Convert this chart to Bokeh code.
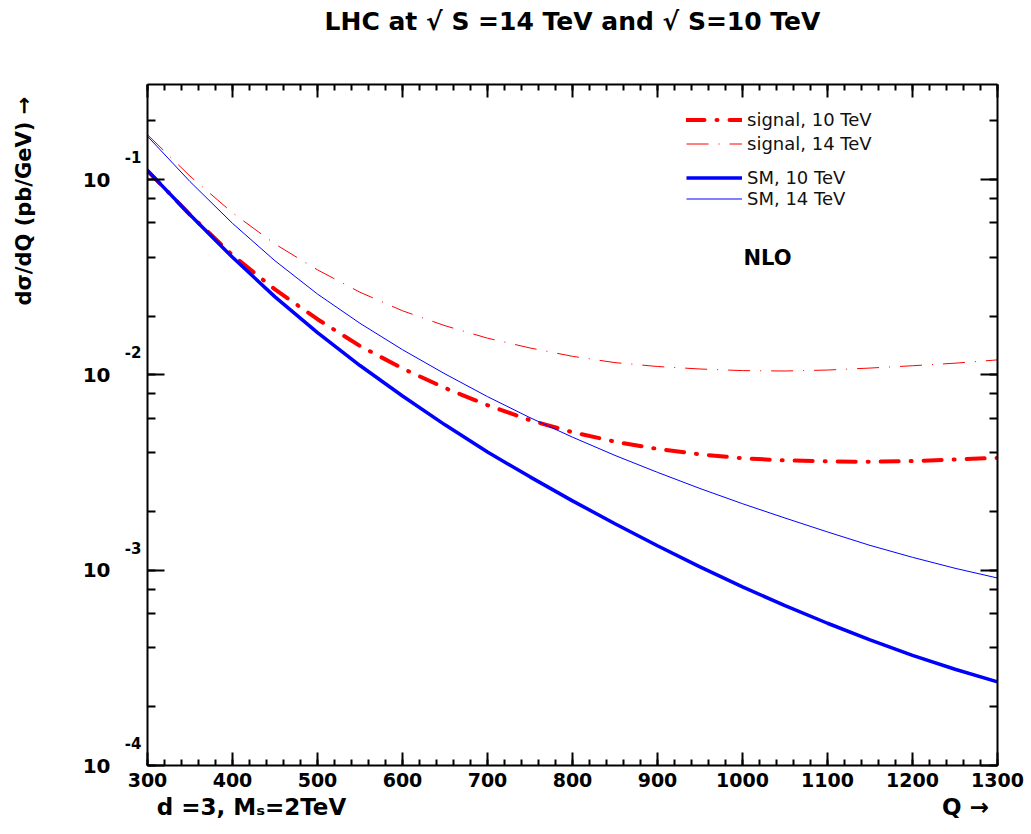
from bokeh.plotting import figure
from bokeh.models import (Label, Legend, LegendItem, LinearAxis, LogAxis, LogTicker,
                          SingleIntervalTicker, FixedTicker, CustomJSTickFormatter)
from bokeh.embed import file_html
from bokeh.resources import INLINE

# ---------------- data ----------------
Q = [300, 350, 400, 450, 500, 550, 600, 650, 700, 750, 800,
     850, 900, 950, 1000, 1050, 1100, 1150, 1200, 1250, 1300]

SIGNAL_10 = [0.1112, 0.0661, 0.0410, 0.0274, 0.01928, 0.01406, 0.01079, 0.00857,
             0.00700, 0.00586, 0.00509, 0.00455, 0.00418, 0.00392, 0.00374,
             0.00365, 0.00361, 0.00359, 0.00362, 0.00369, 0.00376]

SIGNAL_14 = [0.1698, 0.1042, 0.0676, 0.0468, 0.0345, 0.0265, 0.0213, 0.01786,
             0.01542, 0.01374, 0.01245, 0.01156, 0.01104, 0.01072, 0.01052,
             0.01047, 0.01059, 0.01084, 0.01114, 0.01148, 0.01194]

SM_10 = [0.1112, 0.0661, 0.0400, 0.0251, 0.01648, 0.01117, 0.00780, 0.00555,
         0.00403, 0.003006, 0.002265, 0.001730, 0.001334, 0.001040, 0.000822,
         0.000658, 0.000535, 0.000440, 0.000366, 0.000311, 0.000268]

SM_14 = [0.1667, 0.0977, 0.0597, 0.0384, 0.02594, 0.01837, 0.01346, 0.01012,
         0.00774, 0.00604, 0.00480, 0.00387, 0.00317, 0.00262, 0.00219,
         0.00185, 0.00157, 0.00134, 0.001164, 0.001023, 0.000912]

LEGEND_SIGNAL = ["signal, 10 TeV", "signal, 14 TeV"]
LEGEND_SM = ["SM, 10 TeV", "SM, 14 TeV"]
TITLE = "LHC at \u221a S =14 TeV and \u221a S=10 TeV"
Y_TITLE = "d\u03c3/dQ (pb/GeV)  \u2192"
BOTTOM_TEXTS = ["d =3,  M\u209b=2TeV", "Q \u2192"]

# ---------------- layout helpers ----------------
W, H = 1031, 834
XMIN, XMAX = 300, 1300
YLOG_MIN, YLOG_MAX = -4.0, -0.513
# frame position in canvas pixels
F_LEFT, F_RIGHT, F_TOP, F_BOTTOM = 147, 997, 84, 765
DEC_PX = (F_BOTTOM - F_TOP) / (YLOG_MAX - YLOG_MIN)


def X(ix):
    return XMIN + (ix - F_LEFT) * (XMAX - XMIN) / (F_RIGHT - F_LEFT)


def Y(iy):
    return 10 ** (YLOG_MIN + (F_BOTTOM - iy) / DEC_PX)


FONT = "DejaVu Sans"

p = figure(width=W, height=H, x_range=(XMIN, XMAX), y_range=(10 ** YLOG_MIN, 10 ** YLOG_MAX),
           y_axis_type="log", output_backend="svg", toolbar_location=None, title=None,
           min_border_left=F_LEFT, min_border_right=W - F_RIGHT,
           min_border_top=F_TOP, min_border_bottom=H - F_BOTTOM)
p.outline_line_color = None
p.xgrid.visible = False
p.ygrid.visible = False
p.background_fill_color = "white"
p.border_fill_color = "white"

empty = CustomJSTickFormatter(code="return '';")


def style_axis(ax, major_in, minor_in):
    ax.axis_line_width = 2
    ax.axis_line_color = "black"
    ax.major_tick_line_width = 2
    ax.minor_tick_line_width = 2
    ax.major_tick_in = major_in
    ax.major_tick_out = 0
    ax.minor_tick_in = minor_in
    ax.minor_tick_out = 0


def hide_rule(ax):
    ax.axis_line_color = None
    ax.major_tick_line_color = None
    ax.minor_tick_line_color = None
    ax.major_tick_in = 0
    ax.major_tick_out = 0
    ax.minor_tick_in = 0
    ax.minor_tick_out = 0


def bold_labels(ax, size):
    ax.major_label_text_font = FONT
    ax.major_label_text_font_style = "bold"
    ax.major_label_text_font_size = size
    ax.major_label_text_color = "black"


# bottom axis
xb = p.xaxis[0]
xb.ticker = SingleIntervalTicker(interval=100, num_minor_ticks=5)
style_axis(xb, 13, 6)
bold_labels(xb, "19px")
xb.major_label_standoff = 7

# second row below: parameters and "Q ->"
xc = LinearAxis(ticker=FixedTicker(ticks=[X(255), X(965)]),
                formatter=CustomJSTickFormatter(args=dict(labels=BOTTOM_TEXTS),
                                                code="return labels[index];"))
hide_rule(xc)
bold_labels(xc, "23px")
xc.major_label_standoff = 4
p.add_layout(xc, "below")

# top axis: ticks, plus the chart title as the label centred above the frame
xt = LinearAxis(ticker=SingleIntervalTicker(interval=100, num_minor_ticks=5),
                formatter=CustomJSTickFormatter(
                    args=dict(title=TITLE, at=X(573)),
                    code="return Math.abs(tick - at) < 50 ? title : '';"))
style_axis(xt, 13, 6)
bold_labels(xt, "25px")
xt.major_label_standoff = 49
p.add_layout(xt, "above")

# left axis: real decade ticks, exponent written above each decade
yl = p.yaxis[0]
yl.ticker = LogTicker()
yl.formatter = CustomJSTickFormatter(
    code="return String(Math.round(Math.log10(tick))) + '\\n\\n';")
style_axis(yl, 17, 8)
bold_labels(yl, "15px")
yl.major_label_standoff = 6

# mantissa "10" of the decade labels
ym = LogAxis(ticker=LogTicker(), formatter=CustomJSTickFormatter(code="return '10';"))
hide_rule(ym)
bold_labels(ym, "20px")
ym.major_label_standoff = 11
p.add_layout(ym, "left")

# y title as a parallel label near the top of the left side
yt = LogAxis(ticker=FixedTicker(ticks=[Y(197)]),
             formatter=CustomJSTickFormatter(args=dict(t=Y_TITLE), code="return t;"))
hide_rule(yt)
bold_labels(yt, "21px")
yt.major_label_orientation = "parallel"
yt.major_label_standoff = 44
p.add_layout(yt, "left")

# right axis
yr = LogAxis(ticker=LogTicker(), formatter=empty)
style_axis(yr, 17, 8)
yr.major_label_standoff = 0
p.add_layout(yr, "right")

# ---------------- curves ----------------
r_s10 = p.line(Q, SIGNAL_10, line_color="#ff0000", line_width=4, line_dash="18 12 1 12",
               line_cap="round")
r_s14 = p.line(Q, SIGNAL_14, line_color="#ff0000", line_width=1, line_dash="22 10 1 10")
r_m10 = p.line(Q, SM_10, line_color="#0000ff", line_width=3.5)
r_m14 = p.line(Q, SM_14, line_color="#0000ff", line_width=1)

common = dict(padding=0, margin=0, glyph_width=56, glyph_height=21, label_height=21,
              label_standoff=5, border_line_color=None, background_fill_alpha=0,
              label_text_font=FONT, label_text_font_size="18px", label_text_color="#111111")
leg1 = Legend(items=[LegendItem(label=LEGEND_SIGNAL[0], renderers=[r_s10]),
                     LegendItem(label=LEGEND_SIGNAL[1], renderers=[r_s14])],
              location=(686 - F_LEFT, F_BOTTOM - 153.5), spacing=3, **common)
leg2 = Legend(items=[LegendItem(label=LEGEND_SM[0], renderers=[r_m10]),
                     LegendItem(label=LEGEND_SM[1], renderers=[r_m14])],
              location=(686 - F_LEFT, F_BOTTOM - 208.5), spacing=0, **common)
p.add_layout(leg1)
p.add_layout(leg2)

# NLO (inside the frame)
p.add_layout(Label(x=X(743), y=Y(257), text="NLO", text_font=FONT, text_font_style="bold",
                   text_font_size="21px", text_align="left", text_baseline="alphabetic",
                   text_color="black"))

open("out.html", "w").write(file_html(p, INLINE))
